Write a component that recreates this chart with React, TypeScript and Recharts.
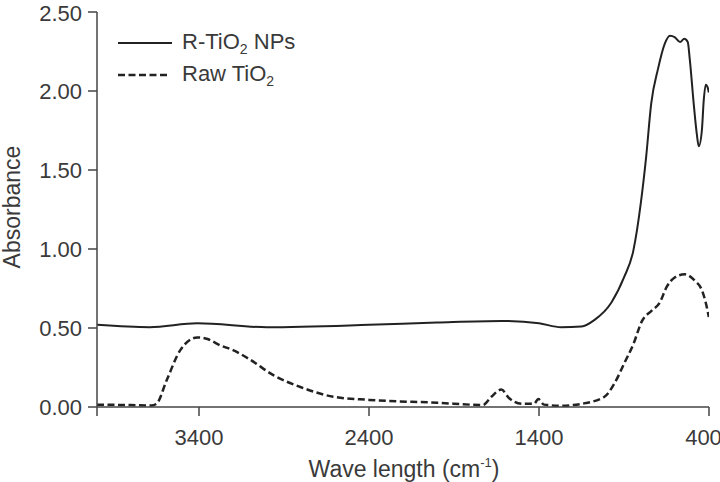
import { LineChart, Line, XAxis, YAxis } from 'recharts';

// R-TiO2 NPs (solid)
const rWave = [4000, 3690, 3410, 3000, 2400, 2000, 1620, 1400, 1270, 1150, 1075, 975, 900, 845, 800, 770, 740, 700, 660, 630, 600, 570, 545, 525, 513, 490, 472, 460, 442, 431, 419, 407, 401];
const rAbs = [0.52, 0.505, 0.53, 0.505, 0.52, 0.535, 0.545, 0.53, 0.505, 0.51, 0.55, 0.66, 0.82, 0.99, 1.3, 1.58, 1.92, 2.14, 2.3, 2.35, 2.34, 2.31, 2.33, 2.31, 2.2, 1.92, 1.73, 1.65, 1.75, 1.94, 2.04, 2.02, 1.99];

// Raw TiO2 (dashed)
const rawWave = [4000, 3800, 3680, 3650, 3590, 3510, 3410, 3350, 3275, 3200, 3100, 2960, 2800, 2610, 2400, 2000, 1730, 1680, 1622, 1575, 1500, 1430, 1404, 1370, 1270, 1150, 1015, 956, 897, 844, 796, 737, 690, 649, 602, 543, 484, 442, 419, 401];
const rawAbs = [0.015, 0.012, 0.01, 0.02, 0.17, 0.36, 0.44, 0.43, 0.39, 0.36, 0.3, 0.2, 0.125, 0.065, 0.045, 0.027, 0.013, 0.065, 0.11, 0.055, 0.02, 0.02, 0.05, 0.015, 0.008, 0.02, 0.065, 0.15, 0.28, 0.4, 0.54, 0.61, 0.66, 0.76, 0.82, 0.84, 0.8, 0.74, 0.66, 0.57];

const xTicks = [4000, 3400, 2400, 1400, 400];
const yTicks = [0, 0.5, 1, 1.5, 2, 2.5];

const rData = rWave.map((wn, i) => ({ wn, abs: rAbs[i] }));
const rawData = rawWave.map((wn, i) => ({ wn, abs: rawAbs[i] }));

const FONT = '"Liberation Sans", Arial, sans-serif';
const INK = '#222';
const TEXT = '#3a3a3a';

const LegendBox = () => (
  <div
    style={{
      position: 'absolute',
      left: 118,
      top: 27,
      fontFamily: FONT,
      fontSize: 22,
      color: TEXT,
      lineHeight: 1,
    }}
  >
    <div style={{ display: 'flex', alignItems: 'center', height: 32 }}>
      <svg width={54} height={10} style={{ marginRight: 10 }}>
        <line x1={0} y1={5} x2={54} y2={5} stroke={INK} strokeWidth={2} />
      </svg>
      <span>
        R-TiO<sub style={{ fontSize: 14, verticalAlign: -5 }}>2</sub> NPs
      </span>
    </div>
    <div style={{ display: 'flex', alignItems: 'center', height: 32 }}>
      <svg width={54} height={10} style={{ marginRight: 10 }}>
        <line x1={0} y1={5} x2={50} y2={5} stroke={INK} strokeWidth={2.5} strokeDasharray="7 3.5" />
      </svg>
      <span>
        Raw TiO<sub style={{ fontSize: 14, verticalAlign: -5 }}>2</sub>
      </span>
    </div>
  </div>
);

const App = () => {
  return (
    <div style={{ position: 'absolute', left: 0, top: 0, width: 720, height: 482, background: '#fff' }}>
      <LineChart width={720} height={482} data={rData} margin={{ top: 12, right: 11, left: 0, bottom: 0 }}>
        <XAxis
          dataKey="wn"
          type="number"
          domain={[400, 4000]}
          reversed
          ticks={xTicks}
          tickFormatter={(v: number) => (v === 4000 ? '' : String(v))}
          height={75}
          tickSize={9}
          tickMargin={13}
          stroke="#444"
          strokeWidth={1.5}
          tick={{ fill: TEXT, fontSize: 22, fontFamily: FONT }}
          allowDataOverflow
          label={{
            content: () => (
              <text x={404} y={477} textAnchor="middle" fill={TEXT} fontSize={23} fontFamily={FONT}>
                <tspan>Wave length (cm</tspan>
                <tspan dy={-10} fontSize={13}>-1</tspan>
                <tspan dy={10}>)</tspan>
              </text>
            ),
          }}
        />
        <YAxis
          type="number"
          domain={[0, 2.5]}
          ticks={yTicks}
          tickFormatter={(v: number) => v.toFixed(2)}
          width={97}
          tickSize={9}
          tickMargin={6}
          stroke="#444"
          strokeWidth={1.5}
          tick={{ fill: TEXT, fontSize: 22, fontFamily: FONT }}
          label={{
            content: () => (
              <text
                x={12}
                y={207}
                transform="rotate(-90 12 207)"
                textAnchor="middle"
                dominantBaseline="central"
                fill={TEXT}
                fontSize={23}
                fontFamily={FONT}
              >
                Absorbance
              </text>
            ),
          }}
        />
        <Line
          data={rData}
          dataKey="abs"
          name="R-TiO2 NPs"
          type="monotone"
          stroke={INK}
          strokeWidth={2}
          dot={false}
          isAnimationActive={false}
        />
        <Line
          data={rawData}
          dataKey="abs"
          name="Raw TiO2"
          type="monotone"
          stroke={INK}
          strokeWidth={2.5}
          strokeDasharray="7 3.5"
          dot={false}
          isAnimationActive={false}
        />
      </LineChart>
      <LegendBox />
    </div>
  );
};

export default App;
